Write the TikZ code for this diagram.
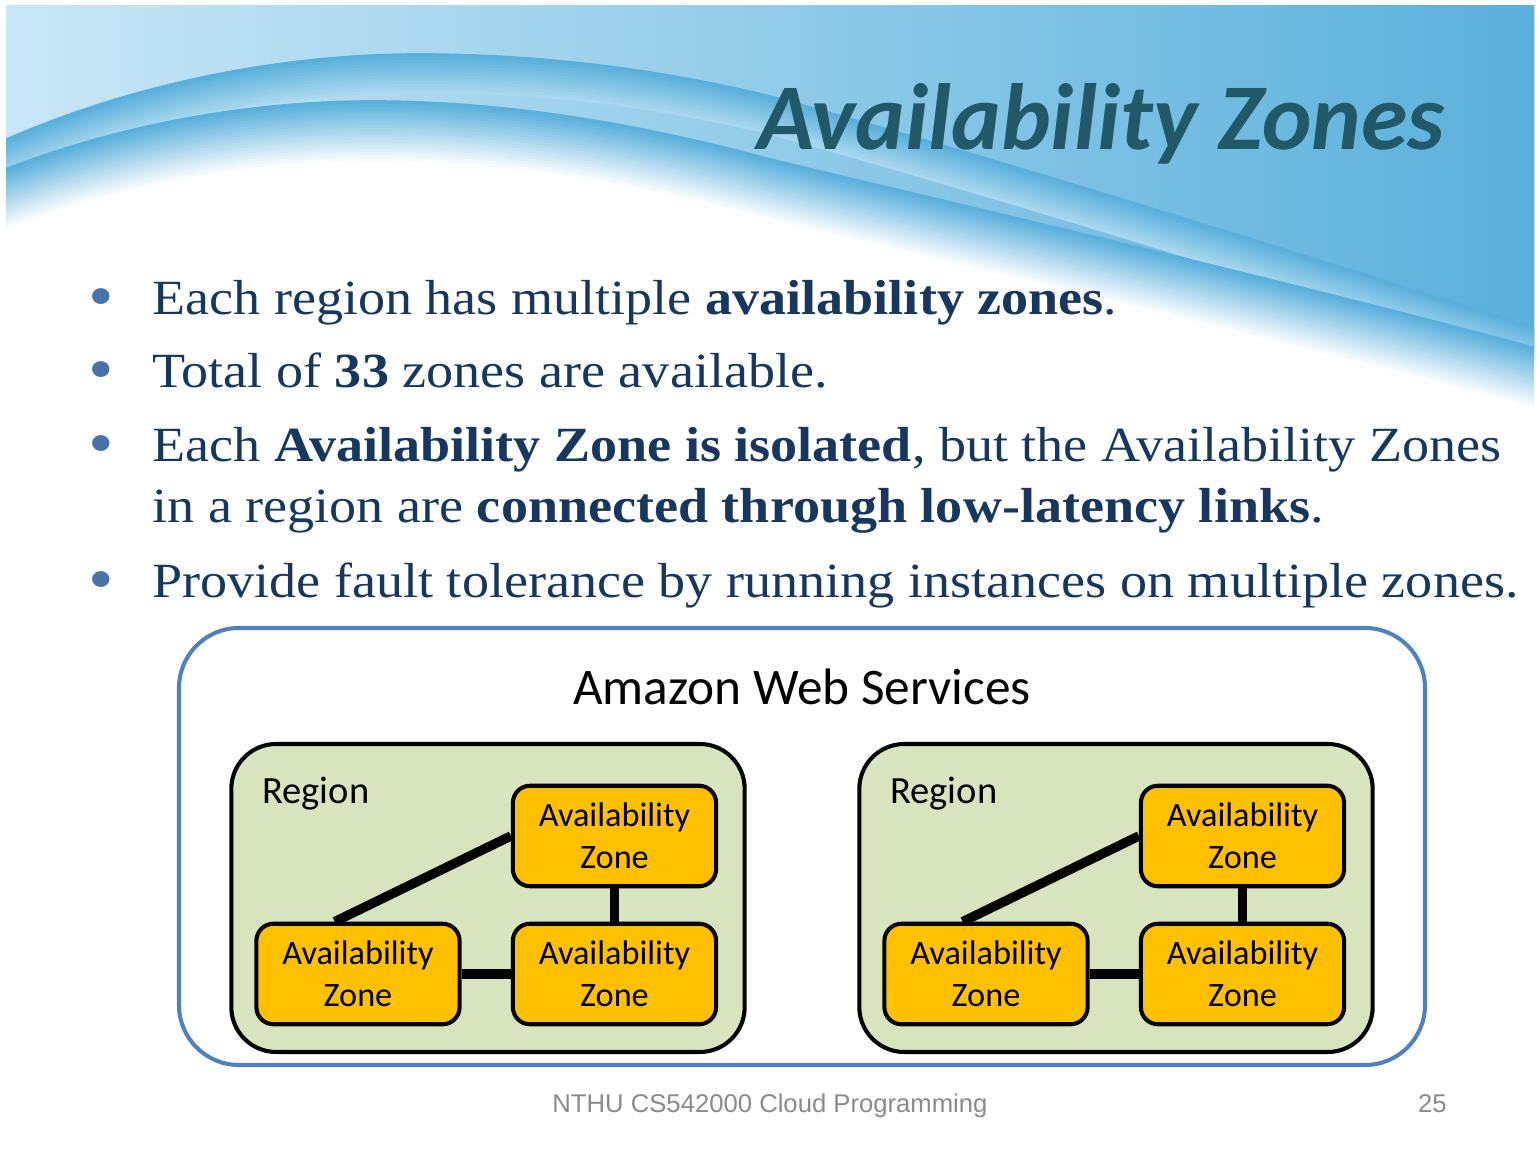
\documentclass[tikz,border=0pt]{standalone}
\usepackage{fontspec}
\setmainfont{Liberation Serif}[FakeStretch=1.1]
\newfontfamily\calibri{Carlito}
\newfontfamily\arial{Liberation Sans}
\usetikzlibrary{positioning}
\definecolor{wave}{HTML}{5AB0DC}
\definecolor{wavelight}{HTML}{C9E7F6}
\definecolor{titleblue}{HTML}{215968}
\definecolor{navy}{HTML}{17375E}
\definecolor{dotblue}{HTML}{4A72A8}
\definecolor{awsblue}{HTML}{4F81BD}
\definecolor{regiongreen}{HTML}{D7E4BD}
\definecolor{zoneorange}{HTML}{FFC000}
\definecolor{footgray}{HTML}{8A8A8A}
\begin{document}
\begin{tikzpicture}[x=0.4675pt,y=-0.4675pt,line join=round,
  body/.style={anchor=base west,inner sep=0pt,text=navy,font=\fontsize{23}{28}\selectfont},
  dot/.style={anchor=base,inner sep=0pt,text=dotblue,font=\fontsize{31}{36}\selectfont},
  aws/.style={draw=awsblue,line width=1.9pt,rounded corners=28pt,minimum width=582.5pt,minimum height=204.3pt,inner sep=0pt},
  region/.style={draw=black,line width=1.9pt,fill=regiongreen,rounded corners=21pt,minimum width=240pt,minimum height=144pt,inner sep=0pt},
  zone/.style={draw=black,line width=1.9pt,fill=zoneorange,rounded corners=8pt,minimum width=95pt,minimum height=47pt,inner sep=0pt,align=center,font=\calibri\fontsize{16}{19.5}\selectfont},
  link/.style={line width=4.4pt}]
\useasboundingbox (0,0) rectangle (1540,1155);
% background wave
\begin{scope}
\clip (6,6) rectangle (1534,1155);
\fill[left color=wavelight,right color=wave] (0,0) -- (1540,0) -- (1540,350)
  .. controls (1300,285) and (1000,215) .. (770,160)
  .. controls (660,130) and (520,102) .. (373,102)
  .. controls (250,102) and (120,125) .. (0,172) -- cycle;
\foreach \k [evaluate=\k as \p using int(100-6*\k)] in {12,...,0}
\draw[line width=1.7pt,wave!\p!wavelight,shift={(0,3*\k)}] (0,143)
  .. controls (130,85) and (280,55) .. (418,55)
  .. controls (560,55) and (680,75) .. (770,97)
  .. controls (1000,160) and (1300,255) .. (1540,330);
\foreach \k [evaluate=\k as \p using int(100-5*\k)] in {20,...,0}
\draw[line width=1.7pt,wave!\p!white,shift={(0,3*\k)}] (0,172)
  .. controls (120,125) and (250,102) .. (373,102)
  .. controls (520,102) and (660,130) .. (770,160)
  .. controls (1000,215) and (1300,285) .. (1540,350);
\end{scope}
% title and bullets
\node[anchor=base east,inner sep=0pt,text=titleblue,font=\calibri\bfseries\itshape\fontsize{44}{50}\selectfont] (title) at (1445,150) {Availability Zones};
\foreach \y in {315,388,462,598}
\node[dot] at (101,\y+4) {•};
\node[body] (b1) at (152,315) {Each region has multiple \textbf{availability zones}.};
\node[body] (b2) at (152,388) {Total of \textbf{33} zones are available.};
\node[body] (b3) at (152,462) {Each \textbf{Availability Zone is isolated}, but the Availability Zones};
\node[body] (b3b) at (152,523) {in a region are \textbf{connected through low-latency links}.};
\node[body] (b4) at (152,598) {Provide fault tolerance by running instances on multiple zones.};
% diagram
\node[aws] (aws) at (802,846.5) {};
\node[anchor=base,inner sep=0pt,font=\calibri\fontsize{24}{28}\selectfont] (awslabel) at (802,705) {Amazon Web Services};
\foreach \r/\x in {L/0,R/628} {
  \node[region] (reg\r) at (488+\x,898) {};
  \node[anchor=base west,inner sep=0pt,font=\calibri\fontsize{18}{20}\selectfont] (lab\r) at (262+\x,803) {Region};
  \node[zone] (top\r) at (614.5+\x,836) {Availability\\Zone};
  \node[zone] (bl\r) at (358+\x,974) {Availability\\Zone};
  \node[zone] (br\r) at (614.5+\x,974) {Availability\\Zone};
  \draw[link] (bl\r.114) -- (top\r.west);
  \draw[link] (top\r) -- (br\r);
  \draw[link] (bl\r) -- (br\r);
}
% footer
\node[anchor=base,inner sep=0pt,text=footgray,font=\arial\fontsize{12}{14}\selectfont] (foot) at (770,1112) {NTHU CS542000 Cloud Programming};
\node[anchor=base east,inner sep=0pt,text=footgray,font=\arial\fontsize{12}{14}\selectfont] (page) at (1447,1112) {25};
\end{tikzpicture}
\end{document}
